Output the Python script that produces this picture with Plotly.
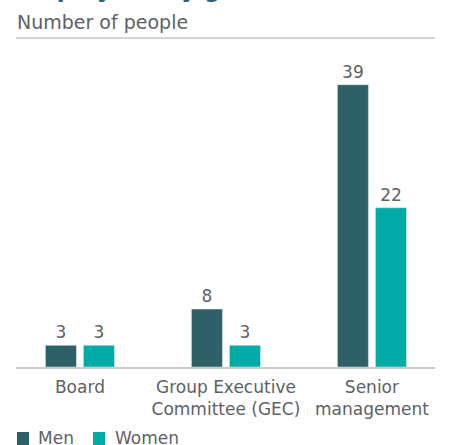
import plotly.graph_objects as go

# Headcount by level and gender
categories = ["Board", "Group Executive<br>Committee (GEC)", "Senior<br>management"]
men = [3, 8, 39]
women = [3, 3, 22]
series_names = ["Men", "Women"]

MEN_COLOR = "#2e6068"
WOMEN_COLOR = "#00aaa7"
TEXT_GRAY = "#5d6166"
RULE_GRAY = "#c9c9c9"
FONT = "DejaVu Sans, Verdana, sans-serif"

# plot-area geometry in pixels, used to place the key below the axis
L, R, T, B, W, H = 16, 15, 63, 78, 450, 445
PW, PH = W - L - R, H - T - B


def px_x(px):
    return (px - L) / PW


def px_y(py):
    return (H - B - py) / PH


fig = go.Figure()
for name, vals, color in zip(series_names, [men, women], [MEN_COLOR, WOMEN_COLOR]):
    fig.add_trace(go.Bar(
        x=categories, y=vals, name=name, marker_color=color,
        text=vals, textposition="outside", cliponaxis=False,
        textfont=dict(size=17, color=TEXT_GRAY, family=FONT),
    ))

fig.update_layout(
    width=W, height=H,
    margin=dict(l=L, r=R, t=T, b=B, autoexpand=False),
    paper_bgcolor="white", plot_bgcolor="white",
    barmode="group", bargap=0.479, bargroupgap=0.184,
    font=dict(family=FONT, color=TEXT_GRAY, size=17),
    showlegend=False,
    xaxis=dict(
        range=[-0.438, 2.432], showline=True, linecolor=RULE_GRAY, linewidth=1.5,
        ticks="outside", ticklen=4, tickcolor="rgba(0,0,0,0)",
        tickfont=dict(size=17, color=TEXT_GRAY, family=FONT),
        showgrid=False, zeroline=False, fixedrange=True,
    ),
    yaxis=dict(range=[0, 42], visible=False, showgrid=False, zeroline=False),
)

# Heading (runs off the top edge), subtitle and separator rule
fig.add_annotation(
    text="<b>Employees by gender and seniority</b>", xref="paper", yref="paper",
    x=px_x(15), y=px_y(4), xanchor="left", yanchor="bottom", showarrow=False,
    font=dict(size=23, color="#2a6470", family=FONT),
)
fig.add_annotation(
    text="Number of people", xref="paper", yref="paper",
    x=px_x(15), y=px_y(35), xanchor="left", yanchor="bottom", showarrow=False,
    font=dict(size=19, color=TEXT_GRAY, family=FONT),
)
fig.add_shape(
    type="line", xref="paper", yref="paper", x0=0, x1=1, y0=px_y(38), y1=px_y(38),
    line=dict(color=RULE_GRAY, width=1.5),
)

# Key: coloured square followed by the series name
key_items = [(series_names[0], MEN_COLOR, 17, 36), (series_names[1], WOMEN_COLOR, 93, 113)]
for name, color, sx, tx in key_items:
    fig.add_shape(
        type="rect", xref="paper", yref="paper",
        x0=px_x(sx), x1=px_x(sx + 12), y0=px_y(445), y1=px_y(432),
        fillcolor=color, line=dict(width=0),
    )
    fig.add_annotation(
        text=name, xref="paper", yref="paper",
        x=px_x(tx), y=px_y(438), xanchor="left", yanchor="middle", showarrow=False,
        font=dict(size=17, color=TEXT_GRAY, family=FONT),
    )

fig.write_html("out.html")
